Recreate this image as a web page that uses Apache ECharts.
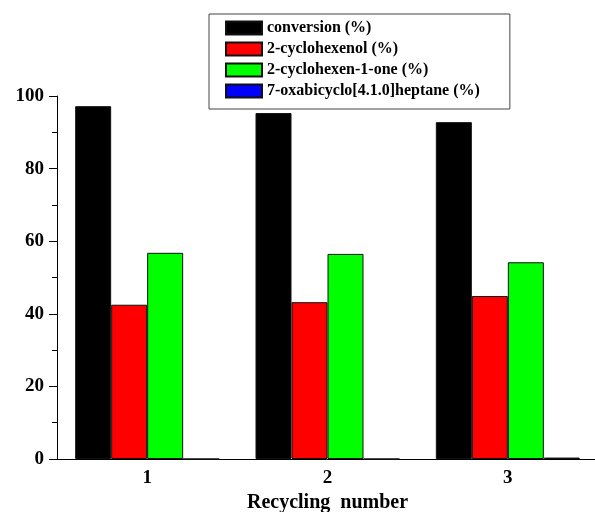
<!DOCTYPE html>
<html>
<head>
<meta charset="utf-8">
<script src="https://cdn.jsdelivr.net/npm/echarts@6/dist/echarts.min.js"></script>
<style>
  html, body { margin: 0; padding: 0; background: #fff; }
  #main { width: 595px; height: 512px; }
</style>
</head>
<body>
<div id="main"></div>
<script>
// data
const cycles = ["1", "2", "3"];
const conversion = [97.2, 95.3, 92.8];
const cyclohexenol = [42.5, 43.2, 44.9];
const cyclohexenone = [56.8, 56.5, 54.2];
const epoxide = [0, 0, 0.4];
const yTicks = [0, 20, 40, 60, 80, 100];

const font = "'Liberation Serif', 'Times New Roman', serif";

const myChart = echarts.init(document.getElementById("main"));

// one bar series per product
function barSeries(name, data, color) {
  return {
    name,
    type: "bar",
    data,
    barWidth: 36,
    barGap: "0%",
    itemStyle: { color, borderColor: "#111", borderWidth: 1 },
  };
}

myChart.setOption({
  animation: false,
  grid: {
    left: 57,
    right: -3,
    top: 96,
    bottom: 53,
    containLabel: false,
    outerBoundsMode: "none", // keep the grid where it is, name may hang off the bottom
  },
  legend: {
    orient: "vertical",
    left: 209,
    top: 14,
    padding: [6, 30, 10, 16],
    icon: "rect",
    itemWidth: 36,
    itemHeight: 13,
    itemGap: 5,
    borderColor: "#444",
    borderWidth: 1,
    textStyle: { fontFamily: font, fontWeight: "bold", fontSize: 16, lineHeight: 16, color: "#000" },
    data: [
      "conversion (%)",
      "2-cyclohexenol (%)",
      "2-cyclohexen-1-one (%)",
      "7-oxabicyclo[4.1.0]heptane (%)",
    ],
  },
  xAxis: [
    {
      type: "category",
      data: cycles,
      name: "Recycling  number",
      nameLocation: "middle",
      nameGap: 34,
      nameTextStyle: { fontFamily: font, fontWeight: "bold", fontSize: 20, color: "#000" },
      axisLine: { lineStyle: { color: "#000", width: 1 } },
      axisTick: { alignWithLabel: true, length: 7, lineStyle: { color: "#000" } },
      axisLabel: { fontFamily: font, fontWeight: "bold", fontSize: 19, color: "#000", margin: 10 },
    },
    {
      // short ticks between the groups
      type: "category",
      data: cycles,
      position: "bottom",
      axisLine: { show: false },
      axisTick: { length: 3, lineStyle: { color: "#000" } },
      axisLabel: { show: false },
    },
  ],
  yAxis: {
    type: "value",
    min: yTicks[0],
    max: yTicks[yTicks.length - 1],
    interval: 20,
    splitLine: { show: false },
    axisLine: { show: true, lineStyle: { color: "#000", width: 1 } },
    axisTick: { show: true, length: 8, lineStyle: { color: "#000" } },
    minorTick: { show: true, splitNumber: 2, length: 5, lineStyle: { color: "#000" } },
    axisLabel: { fontFamily: font, fontWeight: "bold", fontSize: 19, color: "#000", margin: 13 },
  },
  series: [
    barSeries("conversion (%)", conversion, "#000000"),
    barSeries("2-cyclohexenol (%)", cyclohexenol, "#ff0000"),
    barSeries("2-cyclohexen-1-one (%)", cyclohexenone, "#00ff00"),
    barSeries("7-oxabicyclo[4.1.0]heptane (%)", epoxide, "#0000ff"),
  ],
});
</script>
</body>
</html>
